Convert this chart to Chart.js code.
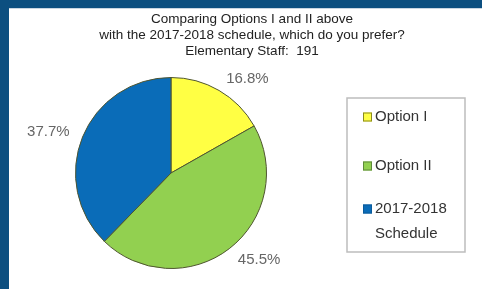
<!DOCTYPE html>
<html>
<head>
<meta charset="utf-8">
<script src="https://cdn.jsdelivr.net/npm/chart.js@4"></script>
<style>
  body { margin: 0; width: 482px; height: 289px; background: #0c4f80; overflow: hidden; }
  #panel { position: absolute; left: 9px; top: 8px; width: 473px; height: 281px; background: #fff; border-top: 1px solid #c9d6e2; box-sizing: border-box; }
  #wrap { position: absolute; left: 22px; top: 8px; width: 460px; height: 281px; }
</style>
</head>
<body>
<div id="panel"></div>
<div id="wrap"><canvas id="myChart"></canvas></div>
<script>
const titleLines = ['Comparing Options I and II above', 'with the 2017-2018 schedule, which do you prefer?', 'Elementary Staff:  191'];
const categories = ['Option I', 'Option II', ['2017-2018', 'Schedule']];
const percents = [16.8, 45.5, 37.7];
const sliceColors = ['#ffff44', '#92d050', '#0a6cb8'];
const legendBorders = ['#8a8a20', '#5e8a3a', '#0a5a9a'];

// 3-line title centred over the whole panel
const topTitle = {
    id: 'topTitle',
    afterDraw(chart) {
        const ctx = chart.ctx;
        ctx.save();
        ctx.font = '13.5px "Liberation Sans", Arial, sans-serif';
        ctx.fillStyle = '#222';
        ctx.textAlign = 'center';
        ctx.textBaseline = 'middle';
        titleLines.forEach(function (t, i) {
            ctx.fillText(t, chart.width / 2, 11 + i * 16);
        });
        ctx.restore();
    }
};

// percent labels just outside each slice
const outsideLabels = {
    id: 'outsideLabels',
    afterDatasetsDraw(chart) {
        const ctx = chart.ctx;
        const meta = chart.getDatasetMeta(0);
        ctx.save();
        ctx.font = '15px "Liberation Sans", Arial, sans-serif';
        ctx.fillStyle = '#666';
        ctx.textBaseline = 'middle';
        meta.data.forEach(function (arc, i) {
            const p = arc.getProps(['x', 'y', 'startAngle', 'endAngle', 'outerRadius'], true);
            const mid = (p.startAngle + p.endAngle) / 2;
            const r = p.outerRadius + 14;
            const x = p.x + Math.cos(mid) * r;
            const y = p.y + Math.sin(mid) * r;
            ctx.textAlign = Math.cos(mid) >= 0 ? 'left' : 'right';
            ctx.fillText(percents[i].toFixed(1) + '%', x, y);
        });
        ctx.restore();
    }
};

// boxed legend on the right
const boxLegend = {
    id: 'boxLegend',
    afterDraw(chart) {
        const ctx = chart.ctx;
        const bx = 325, by = 90, bw = 118, bh = 154;
        ctx.save();
        ctx.strokeStyle = '#bdbdbd';
        ctx.lineWidth = 1.5;
        ctx.strokeRect(bx, by, bw, bh);
        ctx.font = '15px "Liberation Sans", Arial, sans-serif';
        ctx.textAlign = 'left';
        ctx.textBaseline = 'middle';
        const rows = [109, 158, 201];
        chart.data.labels.forEach(function (lab, i) {
            const lines = Array.isArray(lab) ? lab : [lab];
            const y = rows[i];
            ctx.fillStyle = sliceColors[i];
            ctx.fillRect(341, y - 4.5, 9, 9);
            ctx.strokeStyle = legendBorders[i];
            ctx.lineWidth = 1;
            ctx.strokeRect(341.5, y - 4, 8, 8);
            ctx.fillStyle = '#333';
            lines.forEach(function (t, k) {
                ctx.fillText(t, 353, y + k * 25);
            });
        });
        ctx.restore();
    }
};

let ctx = document.getElementById('myChart').getContext('2d');

let chart = new Chart(ctx, {
    type: 'pie',
    data: {
        labels: categories,
        datasets: [
            {
                data: percents,
                backgroundColor: sliceColors,
                borderColor: '#4f5530',
                borderWidth: 1
            }
        ]
    },
    options: {
        responsive: true,
        maintainAspectRatio: false,
        animation: false,
        layout: { padding: { left: 53, right: 215, top: 69, bottom: 20 } },
        plugins: {
            legend: { display: false },
            tooltip: { enabled: false },
            title: { display: false }
        }
    },
    plugins: [outsideLabels, boxLegend, topTitle]
});
</script>
</body>
</html>
